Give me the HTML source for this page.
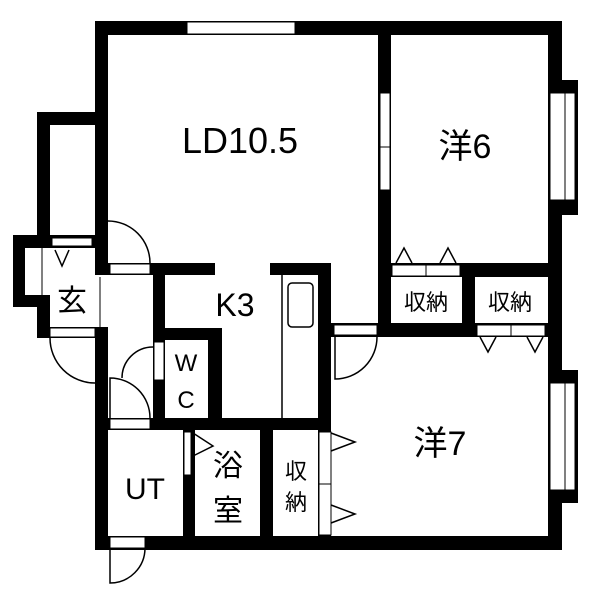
<!DOCTYPE html>
<html><head><meta charset="utf-8"><style>body{margin:0;background:#fff}svg{display:block}text{font-family:"Liberation Sans","Noto Sans CJK JP",sans-serif;fill:#000}</style></head><body>
<svg width="600" height="600" viewBox="0 0 600 600">
<g fill="#000">
<rect x="95" y="21" width="465" height="14"/>
<rect x="548" y="21" width="14" height="529"/>
<rect x="95" y="536" width="467" height="14"/>
<rect x="95" y="21" width="13" height="254"/>
<rect x="95" y="327" width="13" height="223"/>
<rect x="37" y="112" width="13" height="136"/>
<rect x="37" y="112" width="71" height="13"/>
<rect x="13" y="235" width="95" height="13"/>
<rect x="13" y="235" width="12" height="72"/>
<rect x="13" y="295" width="37" height="12"/>
<rect x="37" y="295" width="13" height="43"/>
<rect x="37" y="327" width="71" height="11"/>
<rect x="108" y="263" width="107" height="12"/>
<rect x="153" y="263" width="12" height="167"/>
<rect x="153" y="328" width="69" height="12"/>
<rect x="208" y="328" width="14" height="102"/>
<rect x="108" y="418" width="223" height="12"/>
<rect x="183" y="430" width="12" height="110"/>
<rect x="260" y="430" width="13" height="110"/>
<rect x="270" y="263" width="61" height="12"/>
<rect x="318" y="263" width="13" height="285"/>
<rect x="378" y="21" width="13" height="316"/>
<rect x="378" y="263" width="184" height="14"/>
<rect x="462" y="263" width="13" height="74"/>
<rect x="330" y="323" width="232" height="14"/>
<rect x="548" y="80" width="30" height="135"/>
<rect x="548" y="370" width="30" height="133"/>
</g>
<g fill="#fff" stroke="#000" stroke-width="1">
<rect x="187" y="22" width="108" height="12"/>
<rect x="52" y="238" width="40" height="8"/>
<rect x="50" y="328" width="45" height="9"/>
<rect x="110" y="264" width="40" height="10"/>
<rect x="154" y="342" width="10" height="38"/>
<rect x="110" y="419" width="40" height="10"/>
<rect x="184" y="432" width="7" height="43"/>
<rect x="110" y="537" width="35" height="11"/>
<rect x="319" y="432" width="12" height="52"/>
<rect x="319" y="484" width="12" height="51"/>
<rect x="380" y="93" width="10" height="54"/>
<rect x="380" y="147" width="10" height="43"/>
<rect x="392" y="265" width="34" height="11"/>
<rect x="426" y="265" width="34" height="11"/>
<rect x="477" y="325" width="34" height="11"/>
<rect x="511" y="325" width="34" height="11"/>
<rect x="334" y="325" width="43" height="10"/>
<rect x="550" y="93" width="15" height="107"/>
<rect x="565" y="93" width="10" height="107"/>
<rect x="550" y="383" width="15" height="107"/>
<rect x="565" y="383" width="10" height="107"/>
</g>
<g fill="none" stroke="#000" stroke-width="1.5">
<path d="M50 338 A45 45 0 0 0 95 383"/>
<path d="M150 263 A42 42 0 0 0 108 221"/>
<path d="M122 378 A31 31 0 0 1 153 347"/>
<path d="M150 418 A40 40 0 0 0 110 378 L110 418"/>
<path d="M145 548 A35 35 0 0 1 110 583 L110 548"/>
<path d="M377 337 A42 42 0 0 1 335 379 L335 337"/>
<path d="M55 250 L62 266 L69 250"/>
<path d="M193 433 L213 446 L193 456"/>
<path d="M331 433 L355 442 L331 451"/>
<path d="M331 505 L355 514 L331 523"/>
<path d="M396 263 L404 248 L412 263"/>
<path d="M440 263 L448 248 L456 263"/>
<path d="M480 337 L488 352 L496 337"/>
<path d="M527 337 L535 352 L543 337"/>
<line x1="282" y1="275" x2="282" y2="418"/>
<rect x="288" y="283" width="25" height="44" rx="4"/>
<line x1="42" y1="248" x2="42" y2="295" stroke-width="1"/>
<line x1="100" y1="277" x2="100" y2="327" stroke-width="1"/>
</g>
<text x="240" y="153" font-size="36" text-anchor="middle">LD10.5</text>
<text x="465" y="158" font-size="34" text-anchor="middle">洋6</text>
<text x="426" y="310" font-size="22" text-anchor="middle">収納</text>
<text x="510" y="310" font-size="22" text-anchor="middle">収納</text>
<text x="235" y="316" font-size="32" text-anchor="middle">K3</text>
<text x="72" y="311" font-size="30" text-anchor="middle">玄</text>
<text x="186" y="371" font-size="24" text-anchor="middle">W</text>
<text x="186" y="408" font-size="24" text-anchor="middle">C</text>
<text x="145" y="499" font-size="30" text-anchor="middle">UT</text>
<text x="228" y="476" font-size="30" text-anchor="middle">浴</text>
<text x="228" y="521" font-size="30" text-anchor="middle">室</text>
<text x="296" y="479" font-size="22" text-anchor="middle">収</text>
<text x="296" y="510" font-size="22" text-anchor="middle">納</text>
<text x="440" y="455" font-size="34" text-anchor="middle">洋7</text>
</svg>
</body></html>
